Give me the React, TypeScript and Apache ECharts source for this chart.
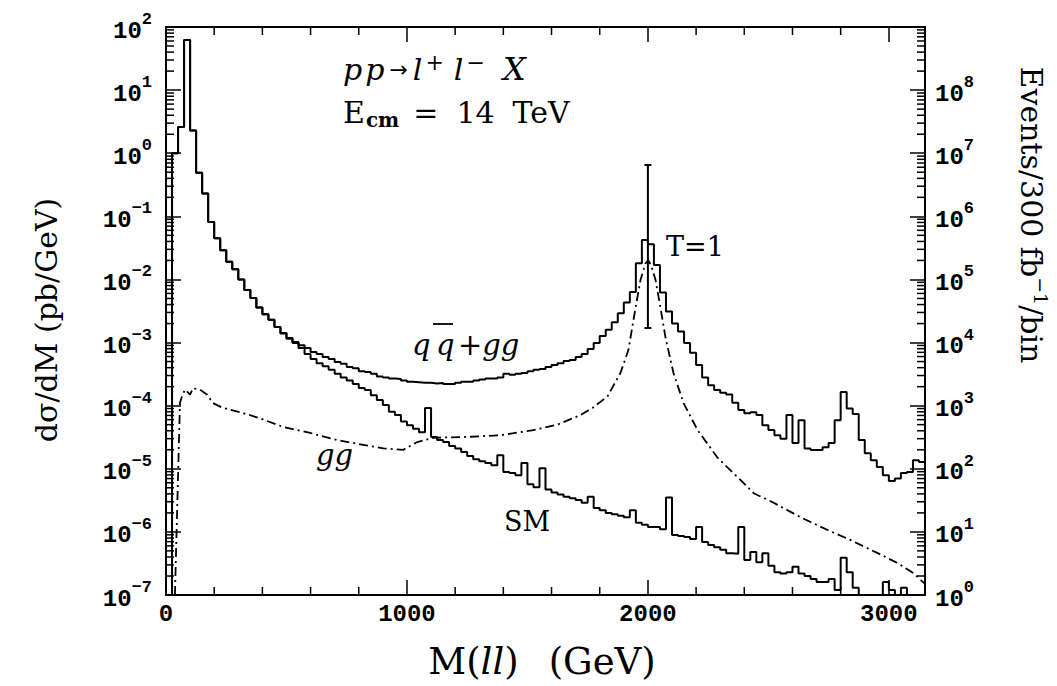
import React, { useEffect, useRef } from 'react';
import * as echarts from 'echarts';

// ---- axis ranges ----
const X_MAX = 3150;
const Y_MIN = 1e-7;
const Y_MAX = 1e2;
const EV_MIN = 1;
const EV_MAX = 1e9;
const BIN_WIDTH = 25;

// ---- histogram: qq̄ + gg (total), 25 GeV bins starting at 0 GeV ----
const totalQQGG = [
  1e-8, 1.0, 2.6, 62, 2.3, 0.49, 0.23, 0.081, 0.045, 0.029,
  0.019, 0.0145, 0.010, 0.0068, 0.0051, 0.0036, 0.0028, 0.0023, 0.00176, 0.00142,
  0.00118, 0.00102, 0.00091, 0.00082, 0.00071, 0.00066, 0.00059, 0.00055, 0.00049, 0.00046,
  0.00041, 0.00039, 0.00035, 0.00034, 0.00032, 0.00029, 0.00028, 0.00027, 0.000265, 0.00025,
  0.00024, 0.000236, 0.00023, 0.00023, 0.000225, 0.000228, 0.00022, 0.00022, 0.00023, 0.00024,
  0.00024, 0.00025, 0.00026, 0.00027, 0.00027, 0.00028, 0.00032, 0.00031, 0.00032, 0.00033,
  0.00035, 0.00037, 0.00038, 0.00041, 0.00044, 0.00047, 0.00051, 0.00053, 0.00059, 0.00066,
  0.00079, 0.00098, 0.00127, 0.0016, 0.0021, 0.0029, 0.0043, 0.0063, 0.018, 0.042,
  0.036, 0.0169, 0.0062, 0.0031, 0.0020, 0.0015, 0.00098, 0.00069, 0.00044, 0.00028,
  0.00021, 0.000177, 0.00016, 0.00015, 0.000111, 0.000085, 0.000076, 0.000079, 0.000071, 0.000049,
  0.000041, 0.000034, 0.000030, 0.000071, 0.0000255, 0.000059, 0.000021, 0.0000198, 0.0000198, 0.000022,
  0.0000255, 0.000059, 0.000164, 0.00009, 0.000074, 0.0000285, 0.0000177, 0.0000137, 0.0000107, 0.0000079,
  0.0000064, 0.000007, 0.0000086, 0.0000089, 0.0000137, 0.0000128,
];

// ---- histogram: Standard Model ----
const smOnly = [
  1e-8, 1.0, 2.6, 62, 2.3, 0.49, 0.23, 0.081, 0.045, 0.029,
  0.019, 0.0145, 0.010, 0.0068, 0.0051, 0.0036, 0.0028, 0.0023, 0.00176, 0.00139,
  0.00115, 0.00098, 0.00082, 0.00066, 0.00055, 0.00047, 0.00042, 0.00037, 0.00032, 0.00028,
  0.00025, 0.00022, 0.00019, 0.000177, 0.000146, 0.000123, 0.000102, 0.000080, 0.000071, 0.000056,
  0.000049, 0.000043, 0.000038, 0.000092, 0.000032, 0.0000285, 0.0000265, 0.000023, 0.000021, 0.0000185,
  0.000016, 0.0000142, 0.0000132, 0.0000123, 0.0000114, 0.0000164, 0.0000089, 0.0000086, 0.0000079, 0.0000123,
  0.0000057, 0.0000051, 0.0000102, 0.0000047, 0.0000042, 0.0000039, 0.0000036, 0.0000034, 0.0000032, 0.0000029,
  0.0000036, 0.0000024, 0.0000022, 0.0000020, 0.0000019, 0.0000018, 0.0000017, 0.0000022, 0.0000014, 0.0000013,
  0.0000012, 0.0000012, 0.0000011, 0.0000035, 8.9e-7, 8.6e-7, 8.3e-7, 7.7e-7, 1.2e-6, 6.9e-7,
  6.2e-7, 5.7e-7, 5.2e-7, 4.6e-7, 4.5e-7, 1.2e-6, 3.6e-7, 4.8e-7, 3.3e-7, 4.6e-7,
  2.9e-7, 2.3e-7, 2.2e-7, 2.3e-7, 2.8e-7, 2.2e-7, 2.0e-7, 1.8e-7, 1.6e-7, 1.6e-7,
  1.8e-7, 1.2e-7, 3.9e-7, 2.3e-7, 1.3e-7, 5e-8, 5e-8, 5e-8, 5e-8, 1.6e-7,
  1.2e-7, 5e-8, 1.3e-7, 5e-8, 5e-8, 5e-8,
];

// ---- gg contribution (dash-dot curve) ----
const ggMass = [
  37, 58, 66, 79, 100, 112, 141, 170, 195, 216, 237, 307, 390, 486, 598, 710, 818, 902, 985,
  1043, 1109, 1250, 1388, 1525, 1624, 1720, 1774, 1832, 1886, 1919, 1949, 1969, 1990, 2002,
  2015, 2032, 2052, 2073, 2106, 2148, 2206, 2289, 2385, 2439, 2522, 2634, 2746, 2842, 2954,
  3037, 3103, 3150,
];
const ggValue = [
  1e-7, 1.1e-4, 1.4e-4, 1.8e-4, 1.5e-4, 1.9e-4, 1.8e-4, 1.5e-4, 1.1e-4, 1.0e-4, 9.2e-5, 7.9e-5,
  6.3e-5, 4.6e-5, 3.7e-5, 2.85e-5, 2.4e-5, 2.1e-5, 2.0e-5, 2.65e-5, 3.1e-5, 3.2e-5, 3.4e-5,
  4.1e-5, 5.0e-5, 7.1e-5, 9.4e-5, 1.4e-4, 3.3e-4, 7.6e-4, 3.6e-3, 9.7e-3, 1.8e-2, 2.0e-2,
  1.6e-2, 9.7e-3, 3.6e-3, 1.2e-3, 3.3e-4, 1.1e-4, 4.1e-5, 1.5e-5, 6.6e-6, 4.1e-6, 2.9e-6,
  1.7e-6, 1.07e-6, 7.4e-7, 4.6e-7, 3.2e-7, 2.2e-7, 1.5e-7,
];

// ---- error bar (T=1 point at 2 TeV): [mass, low, high] ----
const errorBar = [[2000, 0.0017, 0.65]];

// ---- tick values ----
const yMinorMantissa = [2, 3, 4, 5, 6, 7, 8, 9];
const yDecades = [-7, -6, -5, -4, -3, -2, -1, 0, 1];
const xMinorTicks = [200, 400, 600, 800, 1200, 1400, 1600, 1800, 2200, 2400, 2600, 2800];

const SERIF = "'DejaVu Serif', serif";
const MONO = "'Liberation Mono', monospace";

function histData(vals: number[]) {
  const pts: number[][] = vals.map((v, i) => [i * BIN_WIDTH, v]);
  pts.push([vals.length * BIN_WIDTH, vals[vals.length - 1]]);
  return pts;
}

const powLabel = (v: number) => {
  const e = Math.round(Math.log10(v));
  return `{b|10}{s|${e < 0 ? '\u2212' + -e : e}}`;
};

const labelRich = {
  b: { fontFamily: MONO, fontWeight: 'bold', fontSize: 24, lineHeight: 32, verticalAlign: 'bottom', color: '#000' },
  s: { fontFamily: MONO, fontWeight: 'bold', fontSize: 17, lineHeight: 17, verticalAlign: 'top', color: '#000' },
};

function buildOption(): any {
  const tickData: number[][] = [];
  yDecades.forEach((d) => {
    yMinorMantissa.forEach((m) => tickData.push([0, m * Math.pow(10, d), 0]));
  });
  xMinorTicks.forEach((m) => tickData.push([m, Y_MIN, 1]));

  const axisLine = { show: true, onZero: false, lineStyle: { color: '#000', width: 2 } };
  const axisTick = { show: true, inside: true, length: 15, lineStyle: { color: '#000', width: 1.5 } };

  const ts = (size: number, extra: any = {}) => ({ fontFamily: SERIF, fontSize: size, fill: '#000', ...extra });

  return {
    animation: false,
    backgroundColor: '#fff',
    grid: { left: 166, right: 132, top: 27, bottom: 91, containLabel: false },
    xAxis: [
      {
        type: 'value', min: 0, max: X_MAX, interval: 1000, position: 'bottom',
        axisLine, axisTick, splitLine: { show: false },
        axisLabel: {
          margin: 7, color: '#000', fontFamily: MONO, fontWeight: 'bold', fontSize: 24,
          formatter: (v: number) => (v % 1000 === 0 ? String(v) : ''),
        },
      },
      {
        type: 'value', min: 0, max: X_MAX, interval: 1000, position: 'top',
        axisLine, axisTick, splitLine: { show: false }, axisLabel: { show: false },
      },
    ],
    yAxis: [
      {
        type: 'log', logBase: 10, min: Y_MIN, max: Y_MAX, splitNumber: 9, position: 'left',
        axisLine, axisTick, splitLine: { show: false },
        axisLabel: { margin: 14, formatter: powLabel, rich: labelRich },
      },
      {
        type: 'log', logBase: 10, min: EV_MIN, max: EV_MAX, splitNumber: 9, position: 'right',
        axisLine, axisTick, splitLine: { show: false },
        axisLabel: { margin: 10, formatter: powLabel, rich: labelRich, showMaxLabel: false },
      },
    ],
    series: [
      {
        name: 'qq+gg', type: 'line', step: 'end', data: histData(totalQQGG), symbol: 'none',
        lineStyle: { color: '#000', width: 2 }, z: 3, clip: true,
      },
      {
        name: 'SM', type: 'line', step: 'end', data: histData(smOnly), symbol: 'none',
        lineStyle: { color: '#000', width: 2 }, z: 3, clip: true,
      },
      {
        name: 'gg', type: 'line', data: ggMass.map((m, i) => [m, ggValue[i]]), symbol: 'none',
        lineStyle: { color: '#000', width: 1.8, type: [9, 4, 2, 4] }, z: 2, clip: true,
      },
      {
        name: 'errorbar', type: 'custom', data: errorBar, z: 4,
        renderItem: (params: any, api: any) => {
          const lo = api.coord([api.value(0), api.value(1)]);
          const hi = api.coord([api.value(0), api.value(2)]);
          const w = 3.5;
          const st = { stroke: '#000', lineWidth: 2 };
          return {
            type: 'group',
            children: [
              { type: 'line', shape: { x1: lo[0], y1: lo[1], x2: hi[0], y2: hi[1] }, style: st },
              { type: 'line', shape: { x1: lo[0] - w, y1: lo[1], x2: lo[0] + w, y2: lo[1] }, style: st },
              { type: 'line', shape: { x1: hi[0] - w, y1: hi[1], x2: hi[0] + w, y2: hi[1] }, style: st },
            ],
          };
        },
      },
      {
        name: 'minorTicks', type: 'custom', data: tickData, z: 5, silent: true,
        renderItem: (params: any, api: any) => {
          const kind = api.value(2);
          const st = { stroke: '#000', lineWidth: 1.5 };
          const len = 8;
          if (kind === 0) {
            const v = api.value(1);
            const l = api.coord([0, v]);
            const r = api.coord([X_MAX, v]);
            return {
              type: 'group',
              children: [
                { type: 'line', shape: { x1: l[0], y1: l[1], x2: l[0] + len, y2: l[1] }, style: st },
                { type: 'line', shape: { x1: r[0], y1: r[1], x2: r[0] - len, y2: r[1] }, style: st },
              ],
            };
          }
          const m = api.value(0);
          const b = api.coord([m, Y_MIN]);
          const t = api.coord([m, Y_MAX]);
          return {
            type: 'group',
            children: [
              { type: 'line', shape: { x1: b[0], y1: b[1], x2: b[0], y2: b[1] - len }, style: st },
              { type: 'line', shape: { x1: t[0], y1: t[1], x2: t[0], y2: t[1] + len }, style: st },
            ],
          };
        },
      },
    ],
    graphic: [
      // process label
      {
        type: 'text', x: 343, y: 69,
        style: {
          text: '{i|p}{i|p}{r|\u2192}{i|l}{s|+}{i|l}{s|\u2212}{x|X}',
          align: 'left', verticalAlign: 'middle',
          rich: {
            i: ts(30, { fontStyle: 'italic', lineHeight: 36, padding: [0, 3, 0, 0] }),
            x: ts(32, { fontStyle: 'italic', lineHeight: 36, padding: [0, 0, 0, 8] }),
            r: { fontFamily: "'DejaVu Sans', sans-serif", fontSize: 22, fill: '#000', lineHeight: 36, padding: [0, 5, 0, 2] },
            s: ts(22, { lineHeight: 20, verticalAlign: 'top', padding: [0, 10, 0, 0] }),
          },
        },
      },
      {
        type: 'text', x: 343, y: 112,
        style: {
          text: '{e|E}{sub|cm}{r|=}{r|14}{t|TeV}',
          align: 'left', verticalAlign: 'middle',
          rich: {
            e: ts(30, { lineHeight: 36 }),
            r: ts(30, { lineHeight: 36, padding: [0, 18, 0, 0] }),
            t: ts(30, { lineHeight: 36 }),
            sub: ts(20, { fontWeight: 'bold', lineHeight: 20, verticalAlign: 'bottom', padding: [0, 14, 0, 1] }),
          },
        },
      },
      // q qbar + gg
      { type: 'text', x: 412, y: 345, style: ts(29, { text: 'q', fontStyle: 'italic', align: 'left', verticalAlign: 'middle' }) },
      { type: 'text', x: 436, y: 345, style: ts(29, { text: 'q', fontStyle: 'italic', align: 'left', verticalAlign: 'middle' }) },
      { type: 'line', shape: { x1: 433, y1: 324, x2: 453, y2: 324 }, style: { stroke: '#000', lineWidth: 1.8 } },
      { type: 'text', x: 458, y: 345, style: ts(29, { text: '+gg', fontStyle: 'italic', align: 'left', verticalAlign: 'middle' }) },
      // gg
      { type: 'text', x: 316, y: 455, style: ts(29, { text: 'gg', fontStyle: 'italic', align: 'left', verticalAlign: 'middle' }) },
      // SM
      { type: 'text', x: 504, y: 521, style: ts(27, { text: 'SM', align: 'left', verticalAlign: 'middle' }) },
      // T=1
      { type: 'text', x: 666, y: 246, style: ts(27, { text: 'T=1', align: 'left', verticalAlign: 'middle' }) },
      // axis titles
      {
        type: 'text', x: 46, y: 320, rotation: Math.PI / 2,
        style: ts(30, { text: 'd\u03c3/dM (pb/GeV)', align: 'center', verticalAlign: 'middle' }),
      },
      {
        type: 'text', x: 542, y: 661,
        style: {
          text: '{r|M(}{i|ll}{g|)}{r|(GeV)}', align: 'center', verticalAlign: 'middle',
          rich: {
            r: ts(37, { lineHeight: 42 }),
            g: ts(37, { lineHeight: 42, padding: [0, 30, 0, 0] }),
            i: ts(37, { fontStyle: 'italic', lineHeight: 42 }),
          },
        },
      },
      {
        type: 'text', x: 1031, y: 215, rotation: -Math.PI / 2,
        style: {
          text: '{r|Events/300 fb}{s|\u22121}{r|/bin}', align: 'center', verticalAlign: 'middle',
          rich: {
            r: ts(30, { lineHeight: 38 }),
            s: ts(19, { lineHeight: 19, verticalAlign: 'top' }),
          },
        },
      },
    ],
  };
}

export default function App() {
  const ref = useRef<HTMLDivElement>(null);
  useEffect(() => {
    if (!ref.current) return;
    const chart = echarts.init(ref.current, null, { renderer: 'svg' });
    chart.setOption(buildOption());
    return () => chart.dispose();
  }, []);
  return (
    <div
      ref={ref}
      style={{ position: 'fixed', left: 0, top: 0, width: 1057, height: 686, background: '#fff' }}
    />
  );
}
